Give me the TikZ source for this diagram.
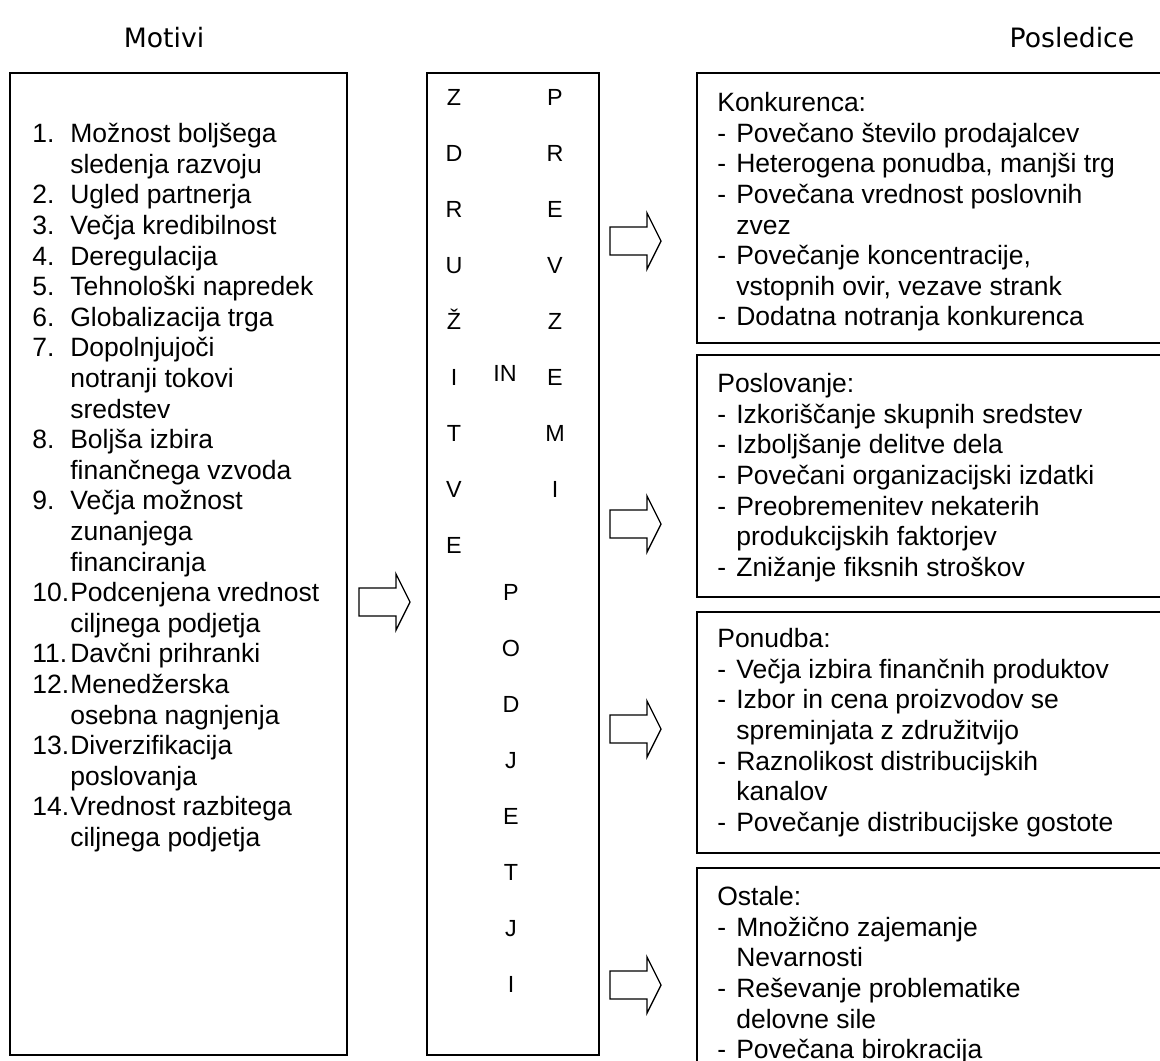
\documentclass[tikz,border=0pt]{standalone}
\usepackage{fontspec}
\setmainfont{Liberation Sans}
\newfontfamily\headfont{DejaVu Sans}
\usetikzlibrary{positioning,fit}

\newcommand{\motnr}[1]{\makebox[22.8pt][l]{#1}}
\newcommand{\motgap}{\hspace*{22.8pt}}
\newcommand{\itemdash}{\makebox[11.4pt][l]{-}}
\newcommand{\itemgap}{\hspace*{11.4pt}}

\tikzset{blockarrow/.pic={
  \draw[line width=0.8pt] (0,-14) -- (37,-14) -- (37,-28) -- (51,0) -- (37,28) -- (37,14) -- (0,14) -- cycle;}}

\begin{document}
\begin{tikzpicture}[
  x=0.6pt,y=-0.6pt,
  node distance=23.2pt,
  frame/.style={draw,line width=1.2pt,inner sep=0pt},
  txt/.style={anchor=north west,align=left,inner sep=0pt,font=\fontsize{15.9}{18.36}\selectfont},
  head/.style={inner sep=0pt,font=\headfont\fontsize{16}{19}\selectfont},
  letter/.style={inner sep=0pt,text height=10pt,text depth=0pt,font=\fontsize{14}{16}\selectfont}
]
\useasboundingbox (0,0) rectangle (1160,1061);
\clip (0,0) rectangle (1160,1061);

\node[head] (motivihead) at (164,38) {Motivi};
\node[head] (posledicehead) at (1072,38) {Posledice};

% boxes
\node[frame,fit={(10,73) (347,1055)}] (motivi) {};
\node[frame,fit={(427,73) (599,1055)}] (zdruzitve) {};
\node[frame,fit={(697,73) (1200,343)}] (konkurenca) {};
\node[frame,fit={(697,355) (1200,597)}] (poslovanje) {};
\node[frame,fit={(697,612) (1200,853)}] (ponudba) {};
\node[frame,fit={(697,868) (1200,1120)}] (ostale) {};

\node[txt] (motivitxt) at (32,121) {\strut\motnr{1.}Možnost boljšega\\
  \motgap sledenja razvoju\\
  \motnr{2.}Ugled partnerja\\
  \motnr{3.}Večja kredibilnost\\
  \motnr{4.}Deregulacija\\
  \motnr{5.}Tehnološki napredek\\
  \motnr{6.}Globalizacija trga\\
  \motnr{7.}Dopolnjujoči\\
  \motgap notranji tokovi\\
  \motgap sredstev\\
  \motnr{8.}Boljša izbira\\
  \motgap finančnega vzvoda\\
  \motnr{9.}Večja možnost\\
  \motgap zunanjega\\
  \motgap financiranja\\
  \motnr{10.}Podcenjena vrednost\\
  \motgap ciljnega podjetja\\
  \motnr{11.}Davčni prihranki\\
  \motnr{12.}Menedžerska\\
  \motgap osebna nagnjenja\\
  \motnr{13.}Diverzifikacija\\
  \motgap poslovanja\\
  \motnr{14.}Vrednost razbitega\\
  \motgap ciljnega podjetja};

\node[txt] (konkurencatxt) at (717,90) {\strut Konkurenca:\\
  \itemdash Povečano število prodajalcev\\
  \itemdash Heterogena ponudba, manjši trg\\
  \itemdash Povečana vrednost poslovnih\\
  \itemgap zvez\\
  \itemdash Povečanje koncentracije,\\
  \itemgap vstopnih ovir, vezave strank\\
  \itemdash Dodatna notranja konkurenca};

\node[txt] (poslovanjetxt) at (717,371) {\strut Poslovanje:\\
  \itemdash Izkoriščanje skupnih sredstev\\
  \itemdash Izboljšanje delitve dela\\
  \itemdash Povečani organizacijski izdatki\\
  \itemdash Preobremenitev nekaterih\\
  \itemgap produkcijskih faktorjev\\
  \itemdash Znižanje fiksnih stroškov};

\node[txt] (ponudbatxt) at (717,626) {\strut Ponudba:\\
  \itemdash Večja izbira finančnih produktov\\
  \itemdash Izbor in cena proizvodov se\\
  \itemgap spreminjata z združitvijo\\
  \itemdash Raznolikost distribucijskih\\
  \itemgap kanalov\\
  \itemdash Povečanje distribucijske gostote};

\node[txt] (ostaletxt) at (717,884) {\strut Ostale:\\
  \itemdash Množično zajemanje\\
  \itemgap Nevarnosti\\
  \itemdash Reševanje problematike\\
  \itemgap delovne sile\\
  \itemdash Povečana birokracija};

% letters in the middle box
\node[letter] (zl1) at (454,97) {Z};
\node[letter,below=of zl1] (zl2) {D};
\node[letter,below=of zl2] (zl3) {R};
\node[letter,below=of zl3] (zl4) {U};
\node[letter,below=of zl4] (zl5) {Ž};
\node[letter,below=of zl5] (zl6) {I};
\node[letter,below=of zl6] (zl7) {T};
\node[letter,below=of zl7] (zl8) {V};
\node[letter,below=of zl8] (zl9) {E};

\node[letter] (pr1) at (555,97) {P};
\node[letter,below=of pr1] (pr2) {R};
\node[letter,below=of pr2] (pr3) {E};
\node[letter,below=of pr3] (pr4) {V};
\node[letter,below=of pr4] (pr5) {Z};
\node[letter,below=of pr5] (pr6) {E};
\node[letter,below=of pr6] (pr7) {M};
\node[letter,below=of pr7] (pr8) {I};

\node[letter] (in) at (505,373) {IN};

\node[letter] (pd1) at (511,592) {P};
\node[letter,below=of pd1] (pd2) {O};
\node[letter,below=of pd2] (pd3) {D};
\node[letter,below=of pd3] (pd4) {J};
\node[letter,below=of pd4] (pd5) {E};
\node[letter,below=of pd5] (pd6) {T};
\node[letter,below=of pd6] (pd7) {J};
\node[letter,below=of pd7] (pd8) {I};

% block arrows
\pic at (359,602) {blockarrow};
\pic at (610,241) {blockarrow};
\pic at (610,524) {blockarrow};
\pic at (610,729) {blockarrow};
\pic at (610,985) {blockarrow};
\end{tikzpicture}
\end{document}
